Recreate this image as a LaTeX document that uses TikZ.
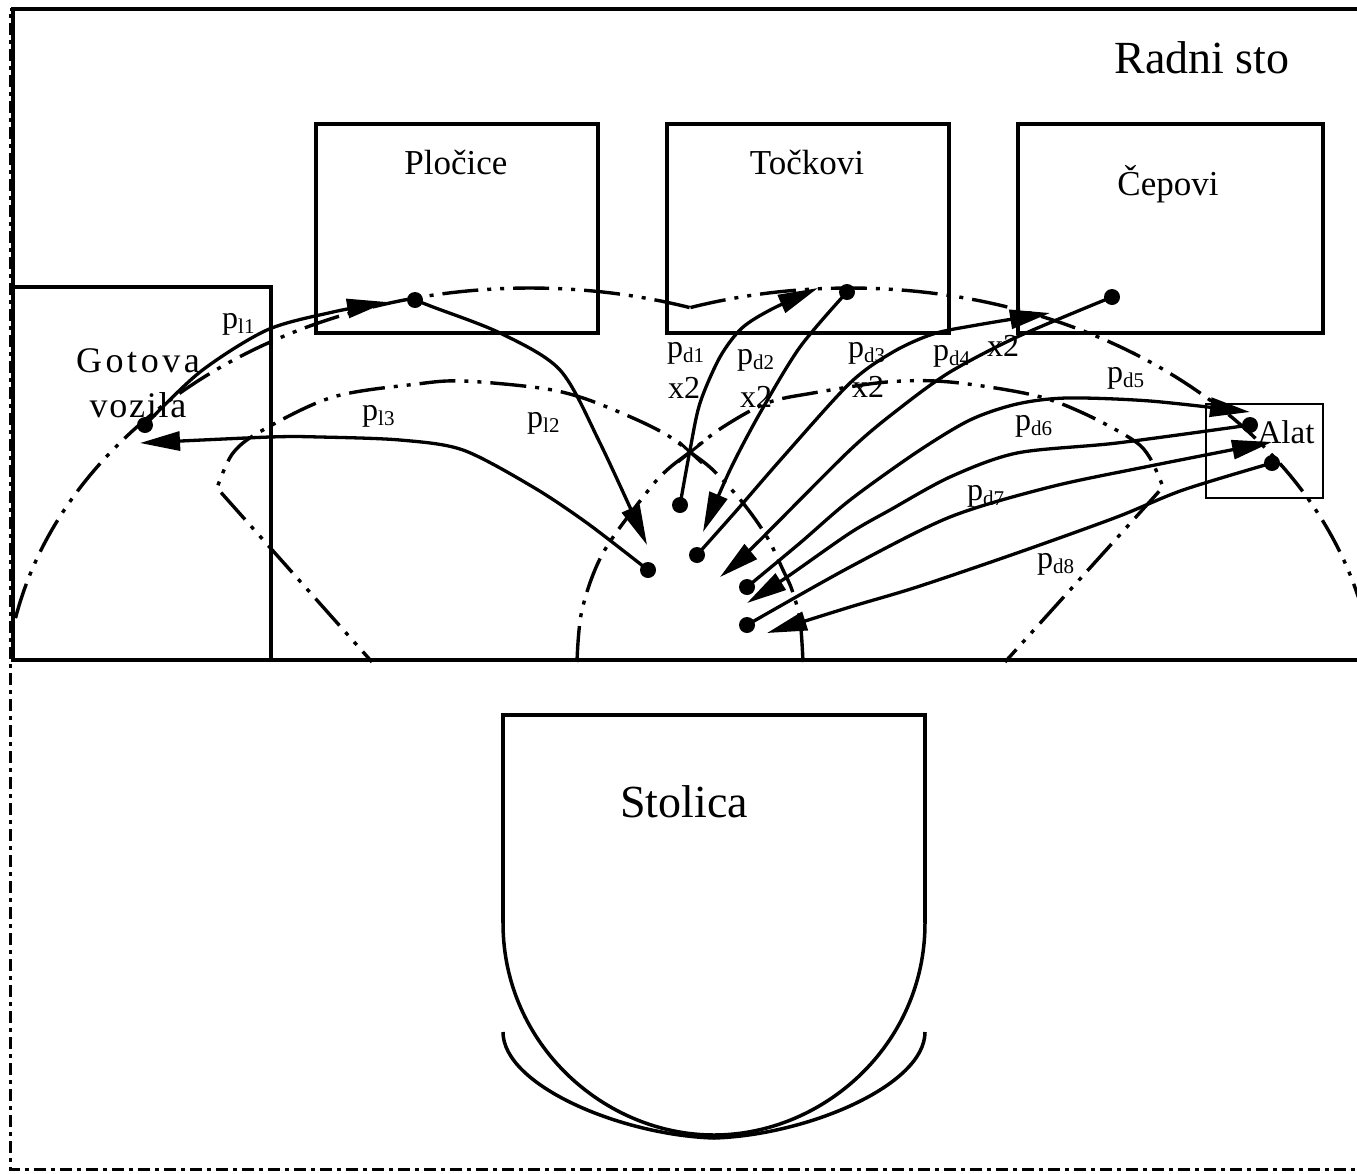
\documentclass[tikz,border=0pt]{standalone}
\usepackage{fontspec}
\setmainfont{Liberation Serif}
\usetikzlibrary{arrows.meta}
% "p" with a lowered subscript
\newcommand{\ps}[1]{p\raisebox{-5pt}{\fontsize{21}{21}\selectfont #1}}
\begin{document}
\begin{tikzpicture}[x=1pt, y=-1pt,
  wall/.style={line width=4pt},
  thinbox/.style={line width=2pt},
  room/.style={line width=3pt, dash pattern=on 12pt off 5pt on 4pt off 5pt},
  reach/.style={line width=3.4pt, dash pattern=on 36pt off 9pt on 4pt off 9pt on 4pt off 9pt},
  move/.style={line width=3.3pt, -{Triangle[length=40pt,width=19pt]}},
  seat/.style={line width=3.5pt},
  dot/.style={circle, fill=black, draw=none, inner sep=0pt, minimum size=16pt},
  lbl/.style={inner sep=0pt, anchor=base west, font=\fontsize{32}{32}\selectfont},
  boxlbl/.style={inner sep=0pt, anchor=base, font=\fontsize{35}{35}\selectfont},
  big/.style={inner sep=0pt, anchor=base, font=\fontsize{46}{46}\selectfont}]
\useasboundingbox (0,0) rectangle (1357,1173);
\fill[white] (0,0) rectangle (1357,1173);
\clip (0,0) rectangle (1357,1173);

% room outline
\draw[room] (1400,9) -- (10,9) -- (10,1169) -- (1400,1169);
% work table
\draw[wall] (1400,9) -- (13,9) -- (13,660) -- (1400,660);

% containers on the table
\draw[wall] (13,287) rectangle (271,660);
\draw[wall] (316,124) rectangle (598,333);
\draw[wall] (667,124) rectangle (949,333);
\draw[wall] (1018,124) rectangle (1323,333);
\draw[thinbox] (1206,404) rectangle (1323,498);

% maximum reach (left and right hand)
\draw[reach] plot[domain=0:97.7, samples=90] ({530+525*cos(-72.3-\x)}, {700+412*sin(-72.3-\x)});
\draw[reach] plot[domain=0:97.7, samples=90] ({850+525*cos(-107.7+\x)}, {700+412*sin(-107.7+\x)});

% normal reach (left and right hand)
\draw[reach] plot[smooth, tension=0.55] coordinates {(803,662) (800,620) (792,590) (783,570) (767,537) (743,503) (713,470) (690,452) (667,435) (633,418) (583,398) (540,388) (463,381) (417,384) (333,397) (263,430) (233,453) (217,488)} -- (372,662);
\draw[reach] plot[smooth, tension=0.55] coordinates {(577,662) (582,610) (603,553) (647,492) (667,470) (690,452) (723,427) (767,403) (813,393) (887,382) (950,382) (1033,395) (1083,413) (1133,440) (1150,458) (1163,487)} -- (1005,662);
\draw[line width=3pt] (679,442) -- (702,463) (678,462) -- (703,442);

% chair
\draw[seat] (503,923) -- (503,715) -- (925,715) -- (925,923);
\draw[seat] (503,923) .. controls (503,1045) and (605,1135) .. (714,1135) .. controls (823,1135) and (925,1045) .. (925,923);
\draw[seat] (503,1032) .. controls (503,1085) and (620,1135) .. (714,1138) .. controls (808,1135) and (925,1085) .. (925,1032);

% texts
\node[big] (radni) at (1202,73) {Radni sto};
\node[big] (stolica) at (684,817) {Stolica};
\node[boxlbl] (plocice) at (456,174) {Pločice};
\node[boxlbl] (tockovi) at (807,174) {Točkovi};
\node[boxlbl] (cepovi) at (1168,195) {Čepovi};
\node[boxlbl, font=\fontsize{36}{36}\selectfont\addfontfeatures{LetterSpace=10}] (gotova) at (138,372) {Gotova};
\node[boxlbl, font=\fontsize{36}{36}\selectfont\addfontfeatures{LetterSpace=5}] (vozila) at (138,417) {vozila};
\node[boxlbl, font=\fontsize{33}{33}\selectfont] (alat) at (1286,443) {Alat};

% points of the motions
\node[dot] (gv) at (145,425) {};
\node[dot] (pl) at (415,300) {};
\node[dot] (tk) at (847,292) {};
\node[dot] (cp) at (1112,297) {};
\node[dot] (al1) at (1250,425) {};
\node[dot] (al2) at (1272,463) {};
\node[dot] (m1) at (648,570) {};
\node[dot] (m2) at (680,505) {};
\node[dot] (m3) at (697,555) {};
\node[dot] (m4) at (747,587) {};
\node[dot] (m5) at (747,625) {};

\coordinate (tl1) at (387,302);
\coordinate (tl2) at (647,545);
\coordinate (tl3) at (140,443);
\coordinate (td1) at (818,288);
\coordinate (td2) at (703,532);
\coordinate (td3) at (1050,313);
\coordinate (td4) at (720,577);
\coordinate (td5) at (1250,412);
\coordinate (td6) at (747,603);
\coordinate (td7) at (1272,442);
\coordinate (td8) at (767,633);

% left hand motions
\draw[move] plot[smooth] coordinates {(gv.center) (200,372) (267,330) (333,312) (tl1)};
\draw[move] plot[smooth] coordinates {(pl.center) (433,307) (500,333) (560,370) (600,443) (tl2)};
\draw[move] plot[smooth] coordinates {(m1.center) (587,523) (533,487) (463,450) (400,440) (320,437) (270,437) (tl3)};
% right hand motions
\draw[move] plot[smooth] coordinates {(m2.center) (690,450) (700,403) (720,357) (742,328) (772,309) (td1)};
\draw[move] plot[smooth] coordinates {(tk.center) (800,347) (760,413) (730,470) (td2)};
\draw[move] plot[smooth] coordinates {(m3.center) (737,510) (783,457) (850,383) (893,352) (933,334) (977,325) (td3)};
\draw[move] plot[smooth] coordinates {(cp.center) (1017,337) (950,372) (900,408) (850,450) (753,547) (td4)};
\draw[move] plot[smooth] coordinates {(m4.center) (800,543) (850,500) (917,452) (970,420) (1017,404) (1067,398) (1150,401) (td5)};
\draw[move] plot[smooth] coordinates {(al1.center) (1117,443) (1017,453) (950,477) (890,510) (850,533) (787,577) (td6)};
\draw[move] plot[smooth] coordinates {(m5.center) (850,567) (950,517) (1050,487) (1150,466) (td7)};
\draw[move] plot[smooth] coordinates {(al2.center) (1183,490) (1117,517) (1017,553) (917,587) (850,607) (td8)};

% motion labels
\node[lbl] (lpl1) at (222,328) {\ps{l1}};
\node[lbl] (lpl2) at (527,427) {\ps{l2}};
\node[lbl] (lpl3) at (362,420) {\ps{l3}};
\node[lbl] (lpd1) at (667,357) {\ps{d1}};
\node[lbl] (xd1) at (668,398) {x2};
\node[lbl] (lpd2) at (737,364) {\ps{d2}};
\node[lbl] (xd2) at (740,407) {x2};
\node[lbl] (lpd3) at (848,357) {\ps{d3}};
\node[lbl] (xd3) at (852,397) {x2};
\node[lbl] (lpd4) at (933,360) {\ps{d4}};
\node[lbl] (xd4) at (987,356) {x2};
\node[lbl] (lpd5) at (1107,382) {\ps{d5}};
\node[lbl] (lpd6) at (1015,430) {\ps{d6}};
\node[lbl] (lpd7) at (967,500) {\ps{d7}};
\node[lbl] (lpd8) at (1037,568) {\ps{d8}};
\end{tikzpicture}
\end{document}
